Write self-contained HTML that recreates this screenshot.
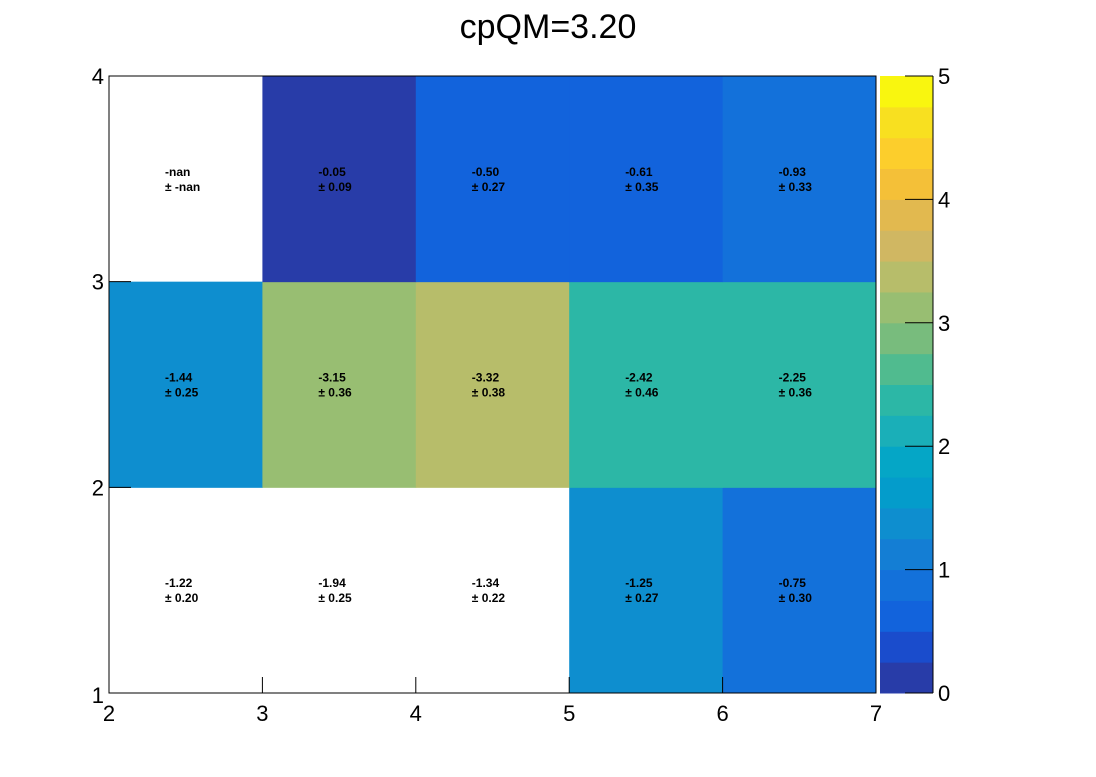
<!DOCTYPE html>
<html><head><meta charset="utf-8"><style>
body{margin:0;background:#fff;font-family:"Liberation Sans",sans-serif}
</style></head><body>
<svg id="c" width="1096" height="772" xmlns="http://www.w3.org/2000/svg">
<text x="548" y="38" text-anchor="middle" font-size="34" font-family="Liberation Sans">cpQM=3.20</text>
<g id="cells"></g><g id="axes"></g><g id="pal"></g>
</svg>
<script>
const xEdges=[2,3,4,5,6,7];
const yEdges=[1,2,3,4];
const xTicks=[2,3,4,5,6,7];
const yTicks=[1,2,3,4];
const zTicks=[0,1,2,3,4,5];
// rows bottom->top
const values=[[-1.22,-1.94,-1.34,-1.25,-0.75],[-1.44,-3.15,-3.32,-2.42,-2.25],[NaN,-0.05,-0.50,-0.61,-0.93]];
const errors=[[0.20,0.25,0.22,0.27,0.30],[0.25,0.36,0.38,0.46,0.36],[NaN,0.09,0.27,0.35,0.33]];
const filled=[[0,0,0,1,1],[1,1,1,1,1],[0,1,1,1,1]];
const palette=['#283ca8','#1a4ccc','#1263dc','#1371da','#147ed4','#0e8ecf','#049ccb','#05a6c6','#1aafb8','#2cb7a6','#50bb8f','#78bc7d','#98be72','#b7bd6a','#d0b762','#e2b94f','#f4c038','#fcce2c','#f8e020','#f9f60f'];
const X0=109,X1=876,Y0=693,Y1=76,zMin=0,zMax=5;
const sx=v=>X0+(v-2)/(7-2)*(X1-X0);
const sy=v=>Y0-(v-1)/(4-1)*(Y0-Y1);
const NS='http://www.w3.org/2000/svg';
function mk(t,a,p){const e=document.createElementNS(NS,t);for(const k in a)e.setAttribute(k,a[k]);p.appendChild(e);return e;}
const cells=document.getElementById('cells'),axes=document.getElementById('axes'),pal=document.getElementById('pal');
const fmt=v=>isNaN(v)?'-nan':v.toFixed(2);
for(let r=0;r<values.length;r++)for(let c=0;c<values[r].length;c++){
 const v=values[r][c];const x=sx(xEdges[c]),y=sy(yEdges[r+1]),w=sx(xEdges[c+1])-x,h=sy(yEdges[r])-y;
 if(filled[r][c]&&!isNaN(v)){let b=Math.floor((Math.abs(v)-zMin)/(zMax-zMin)*palette.length);b=Math.max(0,Math.min(palette.length-1,b));
  const re=mk('rect',{x:x,y:y,width:w+0.5,height:h+0.5,fill:palette[b]},cells);
  
  }
 const cy=y+h/2;
 const t1=mk('text',{x:x+56,y:cy-3,'font-size':12,'font-weight':'bold'},cells);t1.textContent=fmt(v);
 
 
 const t2=mk('text',{x:x+56,y:cy+12,'font-size':12,'font-weight':'bold'},cells);t2.textContent='± '+fmt(errors[r][c]);
 
 
}
mk('rect',{x:X0,y:Y1,width:X1-X0,height:Y0-Y1,fill:'none',stroke:'#000','stroke-width':1},axes);
xTicks.forEach(t=>{const x=sx(t);mk('line',{x1:x,x2:x,y1:Y0,y2:Y0-16,stroke:'#000'},axes);
 const l=mk('text',{x:x,y:Y0+28,'font-size':22,'text-anchor':'middle'},axes);l.textContent=t;
 
 });
yTicks.forEach(t=>{const y=sy(t);mk('line',{x1:X0,x2:X0+22,y1:y,y2:y,stroke:'#000'},axes);
 const l=mk('text',{x:X0-5,y:y+(t==1?10:8),'font-size':22,'text-anchor':'end'},axes);l.textContent=t;
 
 });
const PX0=880,PX1=933,n=palette.length;
palette.forEach((col,i)=>{const y0=Y0-(i+1)*(Y0-Y1)/n;const r=mk('rect',{x:PX0,y:y0,width:PX1-PX0,height:(Y0-Y1)/n+0.5,fill:col},pal);
 
 });
mk('line',{x1:PX1,x2:PX1,y1:Y1,y2:Y0,stroke:'#000'},pal);
zTicks.forEach(t=>{const y=Y0-(t-zMin)/(zMax-zMin)*(Y0-Y1);mk('line',{x1:PX1-28,x2:PX1,y1:y,y2:y,stroke:'#000'},pal);
 const l=mk('text',{x:PX1+5,y:y+8,'font-size':22},pal);l.textContent=t;
 
 });
</script>
</body></html>
